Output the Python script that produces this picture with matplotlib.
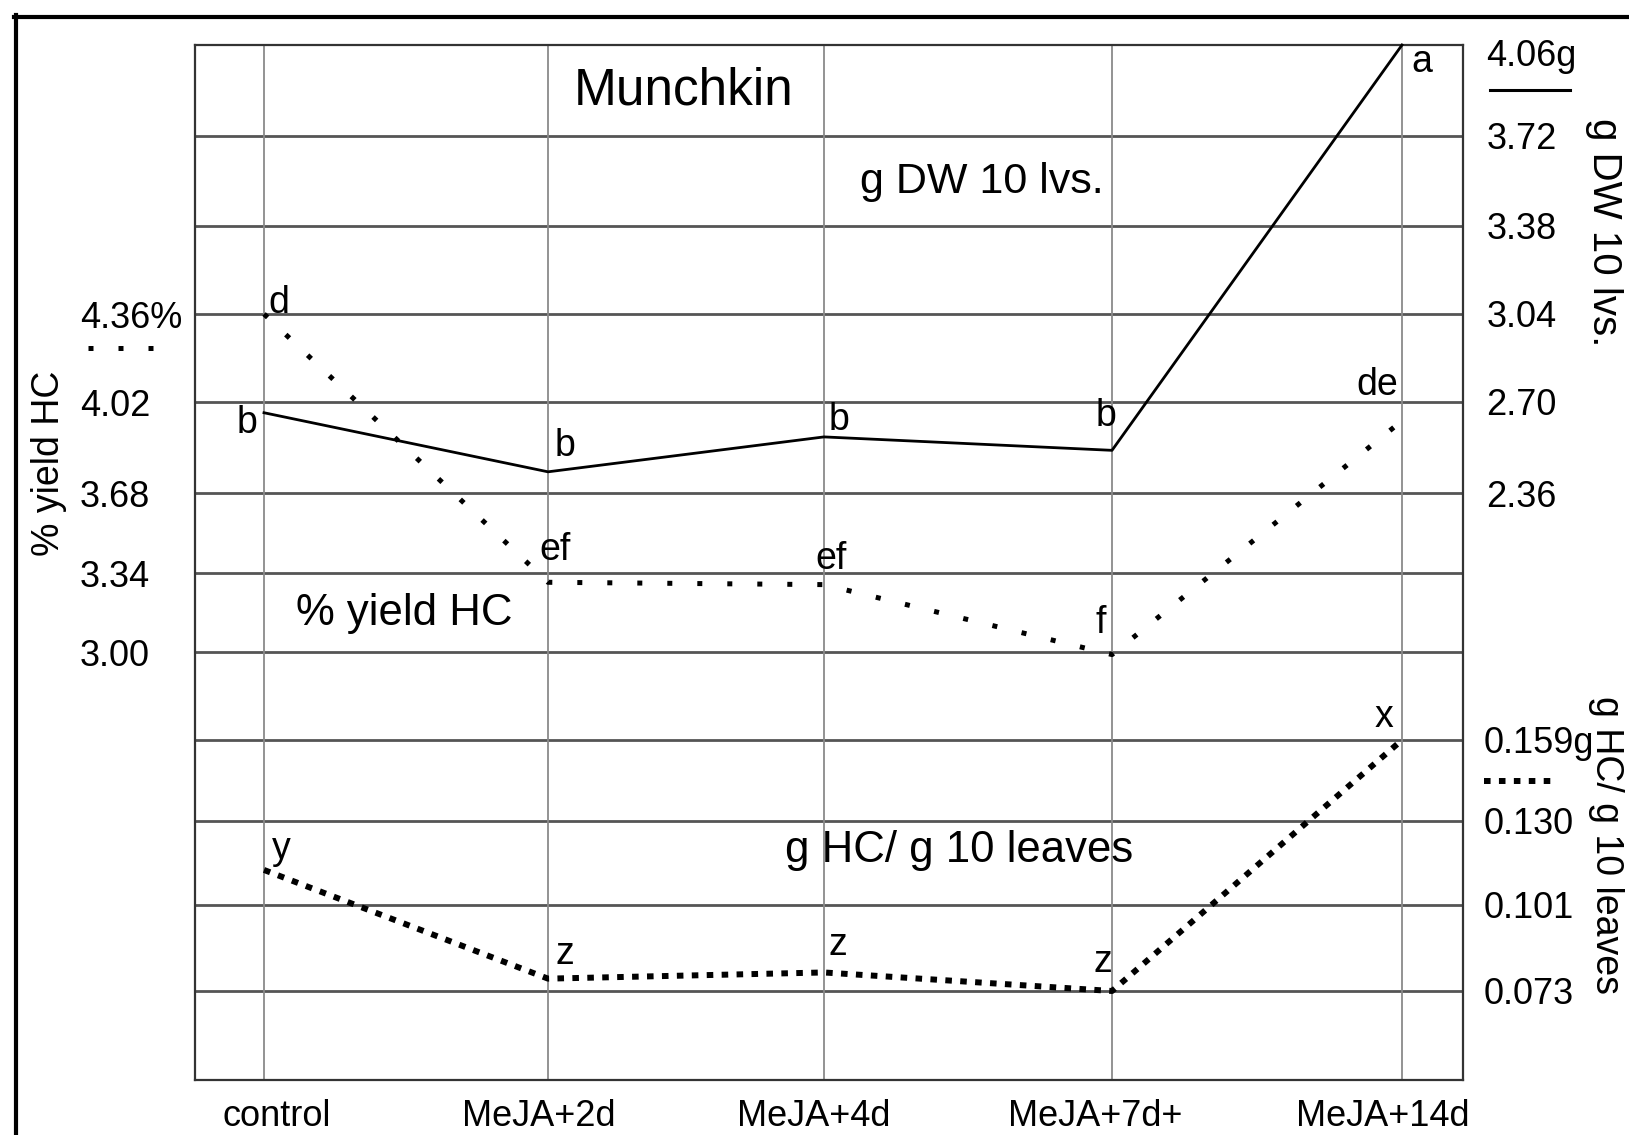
import matplotlib
matplotlib.use("Agg")
import numpy as np
import matplotlib.pyplot as plt
from matplotlib.lines import Line2D
from matplotlib.transforms import ScaledTranslation

plt.rcParams['font.family'] = ['Liberation Sans', 'DejaVu Sans']

# ---- data ----
categories = ['control', 'MeJA+2d', 'MeJA+4d', 'MeJA+7d+', 'MeJA+14d']
dw_10lvs = [2.66, 2.44, 2.57, 2.52, 4.06]          # g DW 10 lvs. (right, upper scale)
yield_hc = [4.36, 3.30, 3.29, 2.99, 3.95]          # % yield HC (left scale)
hc_g = [0.113, 0.077, 0.079, 0.073, 0.159]         # g HC / g 10 leaves (right, lower scale)

dw_letters = ['b', 'b', 'b', 'b', 'a']
yield_letters = ['d', 'ef', 'ef', 'f', 'de']
hc_letters = ['y', 'z', 'z', 'z', 'x']

left_ticks = [4.36, 4.02, 3.68, 3.34, 3.00]
left_labels = ['4.36%', '4.02', '3.68', '3.34', '3.00']
dw_ticks = [3.72, 3.38, 3.04, 2.70, 2.36]
dw_labels = ['3.72', '3.38', '3.04', '2.70', '2.36']
dw_top_label = '4.06g'
hc_ticks = [0.159, 0.130, 0.101, 0.073]
hc_labels = ['0.159g', '0.130', '0.101', '0.073']

# ---- geometry of the (hand-drawn, slightly uneven) grid, in pixels ----
W, H = 1629, 1135
L, R, T, B = 195, 1463, 45, 1080
grid_px = np.array([45, 135.5, 225.5, 314, 402, 493.3, 573, 652, 740, 821, 904.5, 991, 1080])
grid_up = B - grid_px                       # distance from bottom
col_px = np.array([195, 264, 548, 824, 1112, 1402, 1463])
col_knots = np.array([-0.243, 0, 1, 2, 3, 4, 4.2103])


def piecewise(vals, pos):
    vals = np.asarray(vals, float)
    pos = np.asarray(pos, float)
    order = np.argsort(vals)
    v, p = vals[order], pos[order]
    dv0, dp0 = v[1] - v[0], p[1] - p[0]
    dv1, dp1 = v[-1] - v[-2], p[-1] - p[-2]
    v = np.concatenate([[v[0] - 1e3 * dv0], v, [v[-1] + 1e3 * dv1]])
    p = np.concatenate([[p[0] - 1e3 * dp0], p, [p[-1] + 1e3 * dp1]])
    fwd = lambda x: np.interp(x, v, p)
    inv = lambda y: np.interp(y, p, v)
    return fwd, inv


step = 0.34
k = np.arange(13)
left_vals = 4.36 + (3 - k) * step          # value of each grid line on the left scale
dw_vals = 4.06 - k * step                  # value of each grid line on the DW scale
hc_vals = np.concatenate([0.159 + (8 - k[:8]) * 0.029, [0.159, 0.130, 0.101, 0.073, 0.045]])

fig = plt.figure(figsize=(W / 100, H / 100), dpi=100)
ax = fig.add_axes([L / W, 1 - B / H, (R - L) / W, (B - T) / H])
ax.set_xscale('function', functions=piecewise(col_knots, col_px))
ax.set_xlim(col_knots[0], col_knots[-1])
ax.set_yscale('function', functions=piecewise(left_vals, grid_up))
ax.set_ylim(left_vals.min(), left_vals.max())

ax_dw = ax.twinx()
ax_dw.set_yscale('function', functions=piecewise(dw_vals, grid_up))
ax_dw.set_ylim(dw_vals.min(), dw_vals.max())
ax_hc = ax.twinx()
ax_hc.set_yscale('function', functions=piecewise(hc_vals, grid_up))
ax_hc.set_ylim(hc_vals.min(), hc_vals.max())

# grid lines
for v in left_vals[1:-1]:
    ax.axhline(v, color='#555555', lw=2.0, zorder=1)
for i in range(len(categories)):
    ax.axvline(i, color='#8a8a8a', lw=1.3, zorder=1)

for spine in ax.spines.values():
    spine.set_color('#333333')
    spine.set_linewidth(1.6)
for a in (ax_dw, ax_hc):
    for spine in a.spines.values():
        spine.set_visible(False)

TICK_FS = 26
ax.set_xticks(range(len(categories)))
ax.set_xticklabels(categories, fontsize=TICK_FS)
ax.tick_params(axis='x', length=0, pad=14)
ax.xaxis.set_minor_locator(matplotlib.ticker.NullLocator())

ax.set_yticks(left_ticks)
ax.set_yticklabels(left_labels, fontsize=TICK_FS)
ax.tick_params(axis='y', length=0, pad=115 * 0.72)
ax.yaxis.set_minor_locator(matplotlib.ticker.NullLocator())

ax_dw.set_yticks(dw_ticks)
ax_dw.set_yticklabels(dw_labels, fontsize=TICK_FS)
ax_dw.tick_params(axis='y', length=0, pad=17)
ax_dw.yaxis.set_minor_locator(matplotlib.ticker.NullLocator())

ax_hc.set_yticks(hc_ticks)
ax_hc.set_yticklabels(hc_labels, fontsize=TICK_FS)
ax_hc.tick_params(axis='y', length=0, pad=15)
ax_hc.yaxis.set_minor_locator(matplotlib.ticker.NullLocator())

for lab in ax.get_yticklabels():
    lab.set_ha('left')
# category labels sit slightly off their grid lines in the original
x_label_shift = [13, -9, -10, -17, -19]
for lab, dx in zip(ax.get_xticklabels(), x_label_shift):
    lab.set_transform(lab.get_transform() + ScaledTranslation(dx / 100, 0, fig.dpi_scale_trans))

# top label of DW scale sits just below the frame
ax_dw.annotate(dw_top_label, xy=(1, dw_vals[0]), xycoords=('axes fraction', 'data'),
               xytext=(23, -12), textcoords='offset pixels', ha='left', va='center',
               fontsize=TICK_FS, annotation_clip=False)

x = list(range(len(categories)))
ax_dw.plot(x, dw_10lvs, color='black', lw=2.0, clip_on=False, zorder=5)
ax.plot(x, yield_hc, color='black', lw=3.6, linestyle=(0, (1, 5)),
        dash_capstyle='butt', clip_on=False, zorder=5)
ax_hc.plot(x, hc_g, color='black', lw=4.3, linestyle=(0, (1.1, 1.4)),
           dash_capstyle='butt', clip_on=False, zorder=5)

LET_FS = 27
dw_off = [(-17, -10), (17, 26), (15, 17), (-6, 34), (20, -17)]
yield_off = [(15, 11), (7, 32), (7, 26), (-11, 32), (-25, 36)]
hc_off = [(17, 21), (17, 25), (14, 27), (-9, 29), (-18, 23)]
for a, vals, lets, offs in ((ax_dw, dw_10lvs, dw_letters, dw_off),
                            (ax, yield_hc, yield_letters, yield_off),
                            (ax_hc, hc_g, hc_letters, hc_off)):
    for xi, v, t, o in zip(x, vals, lets, offs):
        a.annotate(t, xy=(xi, v), xytext=o, textcoords='offset pixels',
                   ha='center', va='center', fontsize=LET_FS, annotation_clip=False)

# inner texts
ax.text(0.385, 0.9556, 'Munchkin', transform=ax.transAxes, ha='center', va='center', fontsize=37)
ax.text(0.6207, 0.8676, 'g DW 10 lvs.', transform=ax.transAxes, ha='center', va='center', fontsize=31)
ax.text(0.1648, 0.4512, '% yield HC', transform=ax.transAxes, ha='center', va='center', fontsize=31.5)
ax.text(0.6025, 0.2222, 'g HC/ g 10 leaves', transform=ax.transAxes, ha='center', va='center', fontsize=31.5)

# axis titles
fig.text(49 / W, 1 - 463 / H, '% yield HC', rotation=90, ha='center', va='center', fontsize=27)
fig.text(1604 / W, 1 - 232 / H, 'g DW 10 lvs.', rotation=270, ha='center', va='center', fontsize=29)
fig.text(1606 / W, 1 - 845 / H, 'g HC/ g 10 leaves', rotation=270, ha='center', va='center', fontsize=27)

# legend marks next to the scales
fig.add_artist(Line2D([88 / W, 156 / W], [1 - 348 / H] * 2, color='black', lw=3.6,
                      linestyle=(0, (1, 5)), dash_capstyle='butt', transform=fig.transFigure))
fig.add_artist(Line2D([1490 / W, 1570 / W], [1 - 90 / H] * 2, color='black', lw=2.2,
                      transform=fig.transFigure))
fig.add_artist(Line2D([1484 / W, 1552 / W], [1 - 781 / H] * 2, color='black', lw=4.3,
                      linestyle=(0, (1.1, 1.4)), dash_capstyle='butt', transform=fig.transFigure))

# outer frame (top and left edges)
fig.add_artist(Line2D([14 / W, 1.0], [1 - 17 / H] * 2, color='black', lw=3.0, transform=fig.transFigure))
fig.add_artist(Line2D([16 / W, 16 / W], [1 - 15 / H, 0.0], color='black', lw=3.0, transform=fig.transFigure))

fig.savefig('out.png', dpi=100, facecolor='white')
